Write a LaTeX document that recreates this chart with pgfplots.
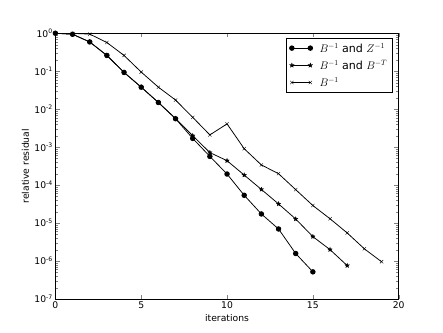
\documentclass[border=0pt]{standalone}
\usepackage{fontspec}
\setmainfont{DejaVu Sans}
\usepackage{pgfplots}
\pgfplotsset{compat=1.18}
\usetikzlibrary{plotmarks}

% filled five-point star, like matplotlib's '*'
\pgfdeclareplotmark{fstar}{%
  \pgfpathmoveto{\pgfpointpolar{90}{\pgfplotmarksize}}%
  \pgfpathlineto{\pgfpointpolar{126}{0.42*\pgfplotmarksize}}%
  \pgfpathlineto{\pgfpointpolar{162}{\pgfplotmarksize}}%
  \pgfpathlineto{\pgfpointpolar{198}{0.42*\pgfplotmarksize}}%
  \pgfpathlineto{\pgfpointpolar{234}{\pgfplotmarksize}}%
  \pgfpathlineto{\pgfpointpolar{270}{0.42*\pgfplotmarksize}}%
  \pgfpathlineto{\pgfpointpolar{306}{\pgfplotmarksize}}%
  \pgfpathlineto{\pgfpointpolar{342}{0.42*\pgfplotmarksize}}%
  \pgfpathlineto{\pgfpointpolar{18}{\pgfplotmarksize}}%
  \pgfpathlineto{\pgfpointpolar{54}{0.42*\pgfplotmarksize}}%
  \pgfpathclose
  \pgfusepathqfillstroke}

\begin{document}
\begin{tikzpicture}
\useasboundingbox (-72pt,-43.2pt) rectangle (504pt,388.8pt);
\begin{axis}[
  scale only axis,
  width=446.4pt, height=345.6pt,
  ymode=log,
  xmin=0, xmax=20,
  ymin=1e-7, ymax=1,
  xtick={0,5,10,15,20},
  xticklabels={0,5,10,15,20},
  ytick={1e-7,1e-6,1e-5,1e-4,1e-3,1e-2,1e-1,1},
  yticklabels={10\textsuperscript{-7},10\textsuperscript{-6},10\textsuperscript{-5},10\textsuperscript{-4},10\textsuperscript{-3},10\textsuperscript{-2},10\textsuperscript{-1},10\textsuperscript{0}},
  tick label style={font=\fontsize{12}{14}\selectfont},
  label style={font=\fontsize{12}{14}\selectfont},
  xlabel={iterations},
  ylabel={relative residual},
  major tick length=5.5pt,
  minor tick length=3pt,
  axis line style={line width=0.8pt},
  legend style={at={(0.9825,0.981)}, anchor=north east, draw=black,
    font=\fontsize{14.4}{17}\selectfont, row sep=5pt, column sep=7pt,
    inner xsep=5pt, inner ysep=4pt, cells={anchor=west}},
  legend image code/.code={%
    \draw[mark repeat=2,mark phase=1,#1] plot coordinates {(0pt,0pt) (12pt,0pt) (24pt,0pt)};},
]
\addplot[black, line width=1pt, mark=*, mark size=3pt] coordinates {
  (0,1.0) (1,0.94) (2,0.59) (3,0.26) (4,0.093) (5,0.038) (6,0.015) (7,0.0056)
  (8,0.0017) (9,5.7e-4) (10,1.96e-4) (11,5.4e-5) (12,1.74e-5) (13,7.0e-6)
  (14,1.58e-6) (15,5.2e-7)
};
\addlegendentry{$B^{-1}$ and $Z^{-1}$}
\addplot[black, line width=1pt, mark=fstar, mark size=3pt, mark options={line width=0.4pt}] coordinates {
  (0,1.0) (1,0.94) (2,0.59) (3,0.26) (4,0.093) (5,0.038) (6,0.015) (7,0.0057)
  (8,0.0020) (9,7.2e-4) (10,4.4e-4) (11,1.84e-4) (12,7.7e-5) (13,3.2e-5)
  (14,1.28e-5) (15,4.4e-6) (16,2.0e-6) (17,7.6e-7)
};
\addlegendentry{$B^{-1}$ and $B^{-T}$}
\addplot[black, line width=1pt, mark=x, mark size=3pt, mark options={line width=0.5pt}] coordinates {
  (0,1.0) (1,0.99) (2,0.95) (3,0.57) (4,0.26) (5,0.095) (6,0.038) (7,0.0174)
  (8,0.0061) (9,0.0021) (10,0.0041) (11,9.1e-4) (12,3.4e-4) (13,2.0e-4)
  (14,7.6e-5) (15,2.9e-5) (16,1.3e-5) (17,5.5e-6) (18,2.1e-6) (19,9.6e-7)
};
\addlegendentry{$B^{-1}$}
\end{axis}
\end{tikzpicture}
\end{document}
